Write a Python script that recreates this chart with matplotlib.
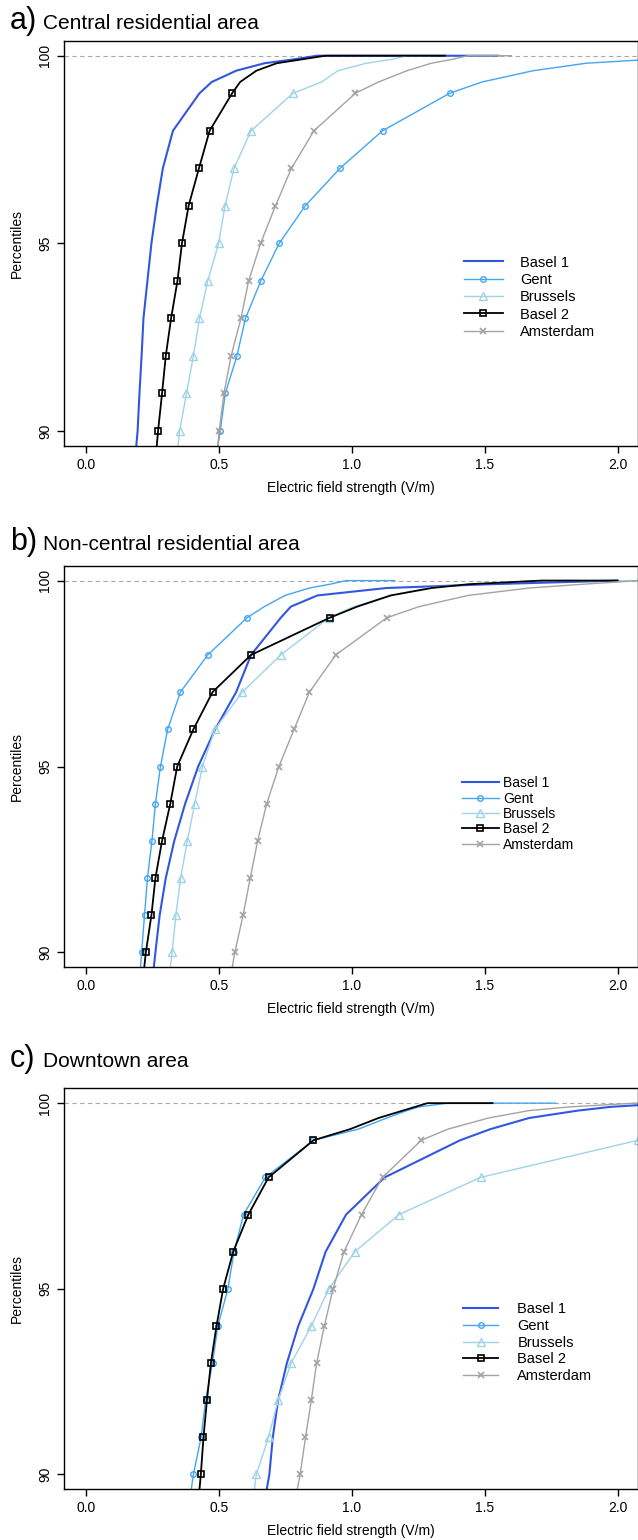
import matplotlib
matplotlib.use('Agg')
import matplotlib.pyplot as plt

plt.rcParams['font.family'] = ['Liberation Sans', 'DejaVu Sans']

# percentile levels at which the curves were read
PCT = [89.6, 90, 91, 92, 93, 94, 95, 96, 97, 98, 99, 99.3, 99.6, 99.8, 99.9, 100]

SERIES = ['Basel 1', 'Gent', 'Brussels', 'Basel 2', 'Amsterdam']

# a) central residential area, field strength (V/m) at each PCT
A_BASEL1 = [0.188, 0.193, 0.200, 0.208, 0.215, 0.230, 0.245, 0.265, 0.288, 0.326, 0.426, 0.472, 0.564, 0.671, 0.778, 0.87]
A_GENT = [0.495, 0.504, 0.523, 0.567, 0.599, 0.657, 0.726, 0.824, 0.955, 1.115, 1.368, 1.49, 1.682, 1.882, 2.12, 2.4]
A_BRUSSELS = [0.345, 0.351, 0.377, 0.403, 0.426, 0.457, 0.498, 0.522, 0.556, 0.620, 0.778, 0.886, 0.947, 1.054, 1.146, 1.21]
A_BASEL2 = [0.265, 0.270, 0.285, 0.299, 0.319, 0.343, 0.360, 0.385, 0.424, 0.464, 0.549, 0.579, 0.640, 0.717, 0.809, 0.90]
A_AMSTERDAM = [0.495, 0.500, 0.518, 0.545, 0.582, 0.611, 0.656, 0.712, 0.772, 0.857, 1.013, 1.10, 1.207, 1.299, 1.376, 1.437]
A_MAX = [1.55, 2.4, 1.3, 1.35, 1.6]

# b) non-central residential area
B_BASEL1 = [0.254, 0.260, 0.276, 0.299, 0.331, 0.372, 0.421, 0.485, 0.564, 0.620, 0.732, 0.770, 0.870, 1.13, 1.51, 2.0]
B_GENT = [0.204, 0.208, 0.219, 0.230, 0.247, 0.260, 0.279, 0.306, 0.354, 0.457, 0.605, 0.67, 0.748, 0.840, 0.916, 0.978]
B_BRUSSELS = [0.316, 0.323, 0.337, 0.355, 0.380, 0.408, 0.437, 0.484, 0.587, 0.732, 0.913, 1.008, 1.146, 1.284, 1.437, 1.71]
B_BASEL2 = [0.218, 0.224, 0.245, 0.260, 0.285, 0.316, 0.342, 0.403, 0.475, 0.620, 0.916, 1.02, 1.146, 1.30, 1.437, 1.713]
B_AMSTERDAM = [0.549, 0.559, 0.590, 0.617, 0.645, 0.679, 0.725, 0.782, 0.840, 0.939, 1.131, 1.253, 1.437, 1.667, 1.866, 2.08]
B_MAX = [2.0, 1.16, 2.1, 2.0, 2.1]

# c) downtown area
C_BASEL1 = [0.679, 0.689, 0.702, 0.722, 0.755, 0.798, 0.855, 0.901, 0.978, 1.123, 1.407, 1.521, 1.667, 1.851, 1.974, 2.2]
C_GENT = [0.395, 0.403, 0.432, 0.449, 0.475, 0.495, 0.533, 0.556, 0.592, 0.674, 0.855, 1.024, 1.131, 1.207, 1.253, 1.361]
C_BRUSSELS = [0.633, 0.640, 0.686, 0.722, 0.771, 0.847, 0.913, 1.011, 1.177, 1.484, 2.077, 2.3, 2.5, 2.7, 2.8, 3.0]
C_BASEL2 = [0.426, 0.431, 0.441, 0.454, 0.469, 0.490, 0.515, 0.553, 0.610, 0.686, 0.855, 0.993, 1.100, 1.192, 1.238, 1.284]
C_AMSTERDAM = [0.794, 0.805, 0.825, 0.847, 0.867, 0.896, 0.929, 0.970, 1.036, 1.115, 1.261, 1.361, 1.514, 1.667, 1.820, 2.066]
C_MAX = [2.2, 1.767, 3.0, 1.529, 2.1]

XTICKS = [0.0, 0.5, 1.0, 1.5, 2.0]
YTICKS = [90, 95, 100]

STYLE = {
    'Basel 1': dict(color='#3157e0', lw=1.5, marker=None),
    'Gent': dict(color='#42a6f2', lw=1.0, marker='o', ms=4, mfc='none', mew=1.0),
    'Brussels': dict(color='#9fd3e8', lw=1.0, marker='^', ms=6, mfc='none', mew=1.0),
    'Basel 2': dict(color='black', lw=1.3, marker='s', ms=5, mfc='none', mew=1.2),
    'Amsterdam': dict(color='#a3a3a3', lw=1.0, marker='x', ms=5, mew=1.2),
}

W, H = 638, 1540
fig = plt.figure(figsize=(W / 100, H / 100), dpi=100)

panels = [
    ('a)', 'Central residential area', [A_BASEL1, A_GENT, A_BRUSSELS, A_BASEL2, A_AMSTERDAM], A_MAX,
     40.7, 446.0, 29.3, dict(x=0.697, y=0.470, fs=10.5, ls=0.23, hl=2.67, hp=1.17)),
    ('b)', 'Non-central residential area', [B_BASEL1, B_GENT, B_BRUSSELS, B_BASEL2, B_AMSTERDAM], B_MAX,
     565.7, 967.3, 550.0, dict(x=0.694, y=0.476, fs=10, ls=0.10, hl=2.63, hp=0.3)),
    ('c)', 'Downtown area', [C_BASEL1, C_GENT, C_BRUSSELS, C_BASEL2, C_AMSTERDAM], C_MAX,
     1088.3, 1489.3, 1067.0, dict(x=0.695, y=0.466, fs=10.5, ls=0.18, hl=2.45, hp=1.3)),
]

left, right = 64.3, 637.5

for letter, title, data, xmax, top, bottom, base, leg in panels:
    ax = fig.add_axes([left / W, 1 - bottom / H, (right - left) / W, (bottom - top) / H])
    ax.axhline(100, color='#aaaaaa', lw=0.8, ls=(0, (4, 3)), zorder=1)
    for name, vals, mx in zip(SERIES, data, xmax):
        st = dict(STYLE[name])
        ax.plot(vals + [mx], PCT + [100], label=name, markevery=list(range(1, 11)), **st)

    ax.set_xlim(-0.083, 2.075)
    ax.set_ylim(89.6, 100.4)
    ax.set_xticks(XTICKS)
    ax.set_xticklabels(['%.1f' % t for t in XTICKS])
    ax.set_yticks(YTICKS)
    ax.set_yticklabels([str(t) for t in YTICKS], rotation=90, va='center')
    ax.tick_params(direction='out', length=5, width=1, labelsize=10, pad=3.5)
    for sp in ax.spines.values():
        sp.set_linewidth(1.0)

    ax.text(0.5, -42 / (bottom - top), 'Electric field strength (V/m)', transform=ax.transAxes,
            ha='center', va='center', fontsize=10)
    ax.text(-47 / (right - left), 0.5, 'Percentiles', transform=ax.transAxes, rotation=90,
            ha='center', va='center', fontsize=10)

    ax.legend(loc='upper left', bbox_to_anchor=(leg['x'], leg['y']), frameon=False,
              fontsize=leg['fs'], labelspacing=leg['ls'], handlelength=leg['hl'],
              handletextpad=leg['hp'], borderpad=0, borderaxespad=0, numpoints=1)

    fig.text(10 / W, 1 - base / H, letter, fontsize=22, va='baseline')
    fig.text(43 / W, 1 - base / H, title, fontsize=15, va='baseline')

fig.savefig('out.png', dpi=100)
